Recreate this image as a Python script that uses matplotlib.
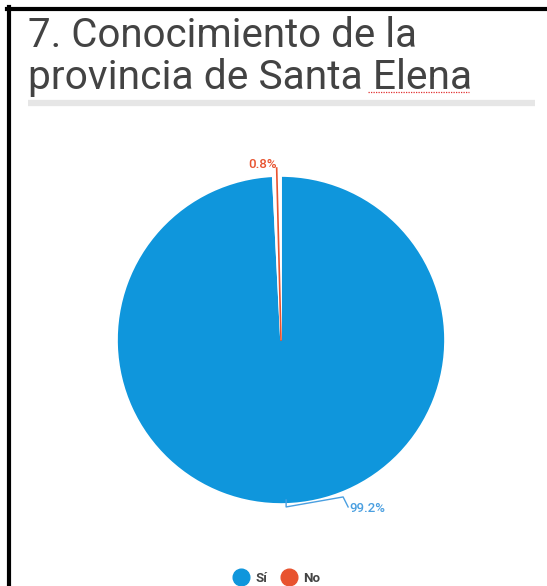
import numpy as np
import matplotlib
matplotlib.use("Agg")
import matplotlib.pyplot as plt
from matplotlib.lines import Line2D

# data
labels = ["Sí", "No"]
shares = [99.2, 0.8]
colors = ["#0f96dc", "#e8532f"]
title_lines = ["7. Conocimiento de la", "provincia de Santa Elena"]

W, H = 547, 586
fig = plt.figure(figsize=(W / 100, H / 100), dpi=100)
plt.rcParams["font.family"] = ["Roboto", "DejaVu Sans"]

def fx(px):
    return px / W

def fy(py):
    return 1 - py / H

# screenshot frame (black border left and top)
fig.add_artist(Line2D([fx(9), fx(9)], [fy(7), 0], color="black", lw=3, transform=fig.transFigure))
fig.add_artist(Line2D([fx(7), 1], [fy(9), fy(9)], color="black", lw=3, transform=fig.transFigure))

# title
fig.text(fx(28), fy(47), title_lines[0], fontsize=29, color="#434343", va="baseline", ha="left")
fig.text(fx(28), fy(89), title_lines[1], fontsize=29.3, color="#434343", va="baseline", ha="left")
# spellcheck squiggle under "Elena"
fig.add_artist(Line2D([fx(368), fx(469)], [fy(92), fy(92)], color="#e03030", lw=0.9,
                      ls=(0, (1, 1)), transform=fig.transFigure))
# grey rule under title
fig.add_artist(Line2D([fx(28), fx(535)], [fy(103), fy(103)], color="#e6e6e6", lw=4.5,
                      transform=fig.transFigure, solid_capstyle="butt"))

# pie
cx, cy, r = 281, 340, 164
ax = fig.add_axes([fx(cx - r), fy(cy + r), 2 * r / W, 2 * r / H])
wedges, _ = ax.pie(shares, colors=colors, startangle=90, counterclock=False,
                   wedgeprops=dict(edgecolor="white", linewidth=1.2))
ax.set_xlim(-1, 1)
ax.set_ylim(-1, 1)
ax.set_aspect("equal")
ax.axis("off")
for w in wedges:
    w.set_clip_on(False)
# the tiny slice renders as a white gap with only its centre line coloured
wedges[1].set_facecolor("white")

u = 1 / r  # data units per pixel
angles = []
start = 90.0
for s in shares:
    mid = start - s / 100 * 360 / 2
    angles.append(np.deg2rad(mid))
    start -= s / 100 * 360

# label for Sí (bottom, leader bending to the right)
a = angles[0]
x0, y0 = np.cos(a) + 1 * u, np.sin(a) + 4 * u
pts_x = [x0, x0, x0 + 57 * u, x0 + 62 * u]
pts_y = [y0, y0 - 7 * u, y0 + 3 * u, y0 - 7 * u]
ax.plot(pts_x, pts_y, color="#4a9fe0", lw=1, clip_on=False)
ax.text(x0 + 63 * u, y0 - 9 * u, f"{shares[0]:.1f}%", color="#4a9fe0", fontsize=9.5,
        ha="left", va="center", fontweight="medium")

# label for No (top, radial leader from the centre)
a = angles[1]
lr = 1 + 8 * u
x1, y1 = lr * np.cos(a), lr * np.sin(a)
ax.plot([0, x1], [0, y1], color=colors[1], lw=1.2, clip_on=False)
ax.text(x1, y1 - 3 * u, f"{shares[1]:.1f}%", color=colors[1], fontsize=9.5,
        ha="right", va="bottom", fontweight="medium")

# legend
handles = [Line2D([], [], marker="o", ls="", markersize=12, color=c) for c in colors]
leg = fig.legend(handles, labels, loc="center", bbox_to_anchor=(fx(277), fy(578)),
                 ncol=2, frameon=False, handlelength=1.2, handletextpad=0.5,
                 columnspacing=1.0, prop=dict(size=9.5, weight="bold"))
for t in leg.get_texts():
    t.set_color("#444444")

fig.savefig("out.png", dpi=100)
